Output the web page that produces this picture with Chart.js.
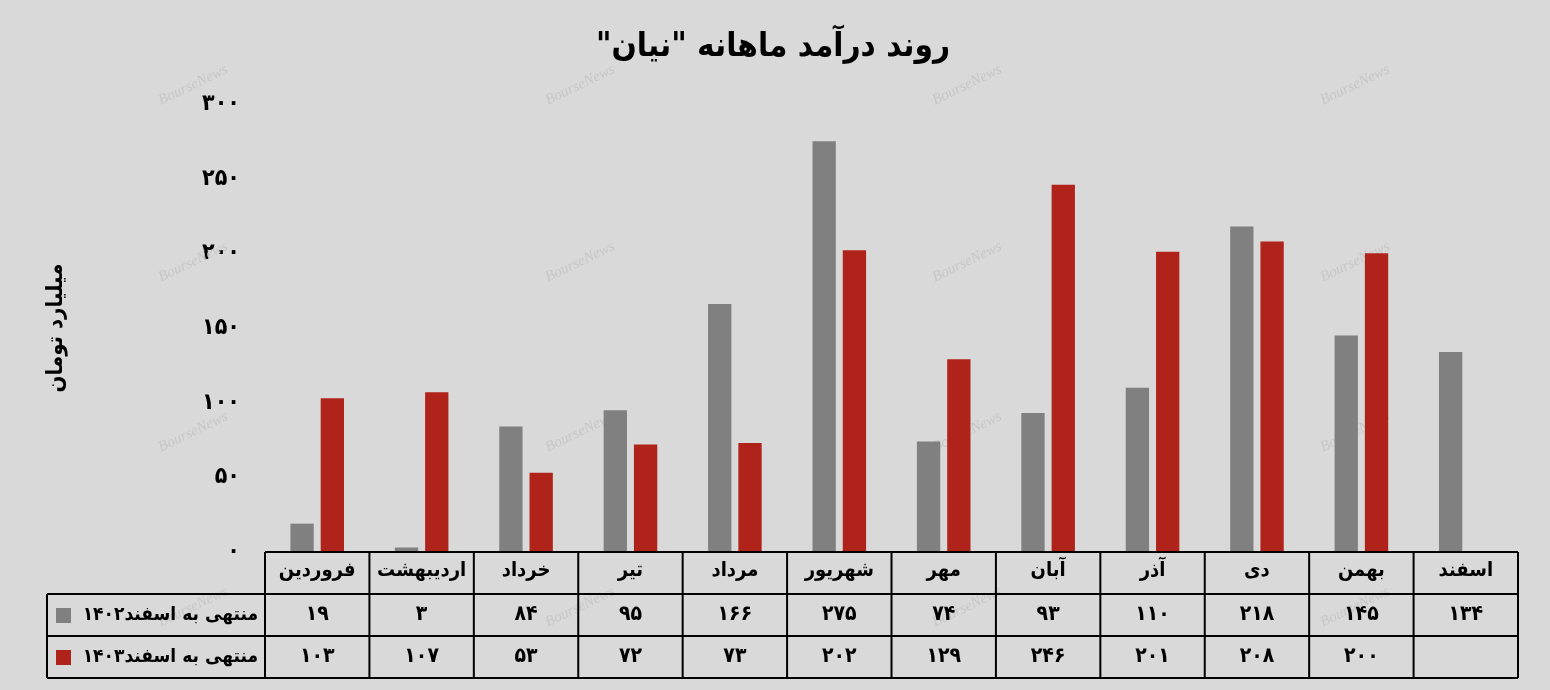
<!DOCTYPE html>
<html>
<head>
<meta charset="utf-8">
<script src="https://cdn.jsdelivr.net/npm/chart.js@4.4.1/dist/chart.umd.min.js"></script>
<style>
  html, body { margin: 0; padding: 0; background: #d9d9d9; }
  #wrap { width: 1550px; height: 690px; }
</style>
</head>
<body>
<div id="wrap"><canvas id="revenueChart"></canvas></div>
<script>
// Monthly revenue data (billion toman)
const months = ['فروردین', 'اردیبهشت', 'خرداد', 'تیر', 'مرداد', 'شهریور', 'مهر', 'آبان', 'آذر', 'دی', 'بهمن', 'اسفند'];
const revenue1402 = [19, 3, 84, 95, 166, 275, 74, 93, 110, 218, 145, 134];
const revenue1403 = [103, 107, 53, 72, 73, 202, 129, 246, 201, 208, 200, null];
const seriesNames = ['منتهی به اسفند۱۴۰۲', 'منتهی به اسفند۱۴۰۳'];
const seriesColors = ['#808080', '#b0231a'];
const chartTitle = 'روند درآمد ماهانه "نیان"';
const yTitle = 'میلیارد تومان';
const watermark = 'BourseNews';

const FONT = '"DejaVu Sans Condensed", "DejaVu Sans"';
const faDigits = '۰۱۲۳۴۵۶۷۸۹';
const toFa = n => String(n).replace(/\d/g, d => faDigits[d]);

// title drawn right-to-left so the quotes land on the correct side
const titlePlugin = {
  id: 'rtlTitle',
  afterDraw(chart) {
    const ctx = chart.ctx;
    ctx.save();
    ctx.direction = 'rtl';
    ctx.font = 'bold 33px ' + FONT;
    ctx.fillStyle = '#000';
    ctx.textAlign = 'center';
    ctx.textBaseline = 'middle';
    ctx.fillText(chartTitle, 773, 47);
    ctx.restore();
  }
};

// faint BourseNews marks behind the bars
const watermarkPlugin = {
  id: 'watermark',
  beforeDatasetsDraw(chart) {
    const ctx = chart.ctx;
    ctx.save();
    ctx.font = 'italic 15px "Liberation Serif"';
    ctx.fillStyle = 'rgba(196,196,196,0.9)';
    ctx.textAlign = 'center';
    ctx.textBaseline = 'middle';
    [193, 580, 967, 1355].forEach(x => {
      [85, 262, 432, 607].forEach(y => {
        ctx.save();
        ctx.translate(x, y);
        ctx.rotate(-0.45);
        ctx.fillText(watermark, 0, 0);
        ctx.restore();
      });
    });
    ctx.restore();
  }
};

// data table under the plot, columns follow the x scale
const tablePlugin = {
  id: 'dataTable',
  afterDraw(chart) {
    const ctx = chart.ctx;
    const xs = chart.scales.x;
    const area = chart.chartArea;
    const colW = xs.width / months.length;
    const rowH = 42;
    const top = area.bottom;
    const labelLeft = 47;
    const series = [revenue1402, revenue1403];

    ctx.save();
    ctx.strokeStyle = '#000';
    ctx.lineWidth = 2;
    ctx.fillStyle = '#000';
    ctx.textAlign = 'center';
    ctx.textBaseline = 'middle';
    ctx.direction = 'rtl';

    ctx.beginPath();
    ctx.moveTo(area.left, top); ctx.lineTo(area.right, top);
    for (let r = 1; r <= 3; r++) {
      ctx.moveTo(labelLeft, top + r * rowH); ctx.lineTo(area.right, top + r * rowH);
    }
    ctx.moveTo(labelLeft, top + rowH); ctx.lineTo(labelLeft, top + 3 * rowH);
    months.forEach((m, i) => {
      const cx = xs.getPixelForValue(i);
      ctx.moveTo(cx - colW / 2, top); ctx.lineTo(cx - colW / 2, top + 3 * rowH);
    });
    ctx.moveTo(area.right, top); ctx.lineTo(area.right, top + 3 * rowH);
    ctx.stroke();

    months.forEach((m, i) => {
      const cx = xs.getPixelForValue(i);
      ctx.font = 'bold 20px ' + FONT;
      ctx.fillText(m, cx, top + rowH / 2 - 2);
      ctx.font = 'bold 21px ' + FONT;
      series.forEach((vals, s) => {
        if (vals[i] !== null) ctx.fillText(toFa(vals[i]), cx, top + rowH * (s + 1.5));
      });
    });

    // series labels with colour keys
    ctx.font = 'bold 19px ' + FONT;
    series.forEach((vals, s) => {
      const cy = top + rowH * (s + 1.5);
      ctx.fillStyle = seriesColors[s];
      ctx.fillRect(56, cy - 7, 15, 15);
      ctx.fillStyle = '#000';
      ctx.textAlign = 'right';
      ctx.fillText(seriesNames[s], area.left - 7, cy);
      ctx.textAlign = 'center';
    });
    ctx.restore();
  }
};

new Chart(document.getElementById('revenueChart').getContext('2d'), {
  type: 'bar',
  data: {
    labels: months,
    datasets: [{
      label: seriesNames[0],
      data: revenue1402,
      backgroundColor: seriesColors[0],
      barPercentage: 0.77,
      categoryPercentage: 0.58
    }, {
      label: seriesNames[1],
      data: revenue1403,
      backgroundColor: seriesColors[1],
      barPercentage: 0.77,
      categoryPercentage: 0.58
    }]
  },
  options: {
    responsive: true,
    maintainAspectRatio: false,
    animation: false,
    layout: { padding: { top: 104, bottom: 138, right: 32, left: 0 } },
    plugins: {
      legend: { display: false },
      title: { display: false },
      tooltip: { enabled: false }
    },
    scales: {
      x: { display: false },
      y: {
        min: 0,
        max: 300,
        ticks: {
          stepSize: 50,
          padding: 25,
          color: '#000',
          font: { family: FONT, size: 23, weight: 'bold' },
          callback: v => toFa(v)
        },
        grid: { display: false, drawTicks: false },
        border: { display: false },
        title: {
          display: true,
          text: yTitle,
          color: '#000',
          font: { family: FONT, size: 22, weight: 'bold' },
          padding: { top: 43, bottom: 0 }
        },
        afterFit(scale) { scale.width = 265; }
      }
    }
  },
  plugins: [watermarkPlugin, tablePlugin, titlePlugin]
});
</script>
</body>
</html>
